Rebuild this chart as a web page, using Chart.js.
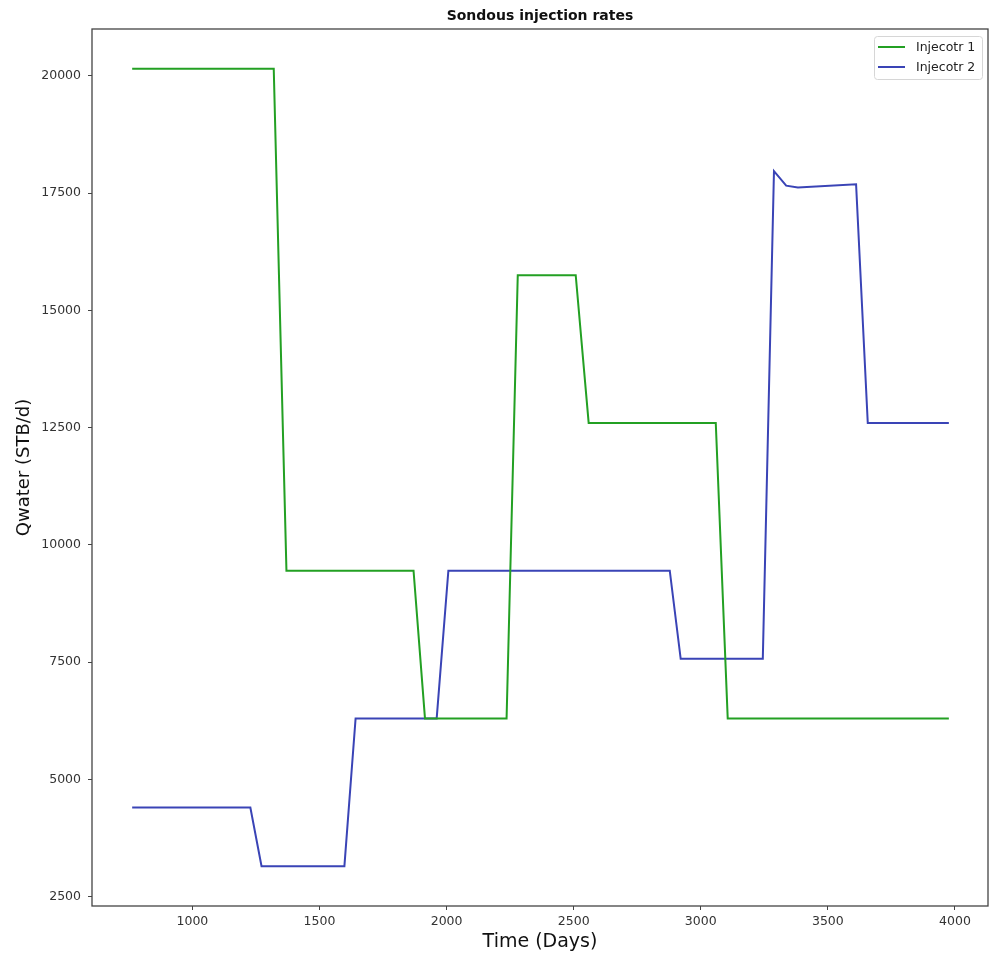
<!DOCTYPE html>
<html>
<head>
<meta charset="utf-8">
<title>Sondous injection rates</title>
<script src="https://cdn.jsdelivr.net/npm/chart.js@4.4.1/dist/chart.umd.min.js"></script>
<style>
  html, body { margin: 0; padding: 0; background: #fff; }
  canvas { display: block; }
</style>
</head>
<body>
<canvas id="chart" width="992" height="957"></canvas>
<script>
// data
const inj1Days = [763, 1320, 1370, 1870, 1915, 2236, 2280, 2508, 2559, 3059, 3106, 3976];
const inj1Rate = [20150, 20150, 9450, 9450, 6300, 6300, 15750, 15750, 12600, 12600, 6300, 6300];

const inj2Days = [763, 1228, 1272, 1598, 1642, 1961, 2007, 2878, 2921, 3244, 3288, 3336, 3382, 3611, 3657, 3976];
const inj2Rate = [4400, 4400, 3150, 3150, 6300, 6300, 9450, 9450, 7570, 7570, 17970, 17660, 17620, 17690, 12600, 12600];

const seriesNames = ['Injecotr 1', 'Injecotr 2'];
const seriesColors = ['#23a023', '#3a44b6'];

const xTicks = [1000, 1500, 2000, 2500, 3000, 3500, 4000];
const yTicks = [2500, 5000, 7500, 10000, 12500, 15000, 17500, 20000];

const FONT = 'DejaVu Sans';

const toPoints = (xs, ys) => xs.map((x, i) => ({ x: x, y: ys[i] }));

// box around the plot, title and legend like matplotlib
const decorations = {
  id: 'decorations',
  afterDraw(chart) {
    const { ctx, chartArea: a } = chart;
    ctx.save();
    ctx.strokeStyle = '#444';
    ctx.lineWidth = 1.3;
    ctx.strokeRect(a.left, a.top, a.right - a.left, a.bottom - a.top);

    // title
    ctx.fillStyle = '#111';
    ctx.font = 'bold 14px "' + FONT + '"';
    ctx.textAlign = 'center';
    ctx.textBaseline = 'middle';
    ctx.fillText('Sondous injection rates', (a.left + a.right) / 2, 16);

    // legend
    const lx = 874, ly = 36, lw = 108, lh = 43;
    ctx.fillStyle = 'rgba(255,255,255,0.85)';
    ctx.strokeStyle = '#d6d6d6';
    ctx.lineWidth = 1;
    ctx.beginPath();
    ctx.roundRect(lx + 0.5, ly + 0.5, lw, lh, 3);
    ctx.fill();
    ctx.stroke();
    ctx.font = '12.5px "' + FONT + '"';
    ctx.textAlign = 'left';
    chart.data.datasets.forEach((ds, i) => {
      const y = 47 + i * 20;
      ctx.strokeStyle = ds.borderColor;
      ctx.lineWidth = 2;
      ctx.beginPath();
      ctx.moveTo(878, y);
      ctx.lineTo(905, y);
      ctx.stroke();
      ctx.fillStyle = '#222';
      ctx.fillText(ds.label, 916, y + 1);
    });
    ctx.restore();
  }
};

new Chart(document.getElementById('chart'), {
  type: 'line',
  data: {
    datasets: [
      {
        label: seriesNames[0],
        data: toPoints(inj1Days, inj1Rate),
        borderColor: seriesColors[0],
        backgroundColor: seriesColors[0],
        borderWidth: 2,
        pointRadius: 0,
        tension: 0
      },
      {
        label: seriesNames[1],
        data: toPoints(inj2Days, inj2Rate),
        borderColor: seriesColors[1],
        backgroundColor: seriesColors[1],
        borderWidth: 2,
        pointRadius: 0,
        tension: 0
      }
    ]
  },
  options: {
    responsive: false,
    animation: false,
    devicePixelRatio: 1,
    layout: { padding: { top: 29, right: 4, left: 0, bottom: 0 } },
    plugins: {
      legend: { display: false },
      tooltip: { enabled: false }
    },
    scales: {
      x: {
        type: 'linear',
        min: 605,
        max: 4130,
        afterBuildTicks(scale) { scale.ticks = xTicks.map(v => ({ value: v })); },
        afterFit(scale) { scale.height = 51; },
        border: { display: false },
        grid: { display: true, drawOnChartArea: false, drawTicks: true, tickLength: 4, color: '#444', tickWidth: 1 },
        ticks: {
          padding: 4,
          maxRotation: 0,
          autoSkip: false,
          color: '#333',
          font: { family: FONT, size: 12.5 },
          callback: (v) => String(v)
        },
        title: {
          display: true,
          text: 'Time (Days)',
          color: '#111',
          font: { family: FONT, size: 19 },
          padding: { top: 0, bottom: 4 }
        }
      },
      y: {
        min: 2300,
        max: 21000,
        afterBuildTicks(scale) { scale.ticks = yTicks.map(v => ({ value: v })); },
        afterFit(scale) { scale.width = 92; },
        border: { display: false },
        grid: { display: true, drawOnChartArea: false, drawTicks: true, tickLength: 4, color: '#444', tickWidth: 1 },
        ticks: {
          padding: 7,
          autoSkip: false,
          color: '#333',
          font: { family: FONT, size: 12.5 },
          callback: (v) => String(v)
        },
        title: {
          display: true,
          text: 'Qwater (STB/d)',
          color: '#111',
          font: { family: FONT, size: 18 },
          padding: { top: 14, bottom: 0 }
        }
      }
    }
  },
  plugins: [decorations]
});
</script>
</body>
</html>
